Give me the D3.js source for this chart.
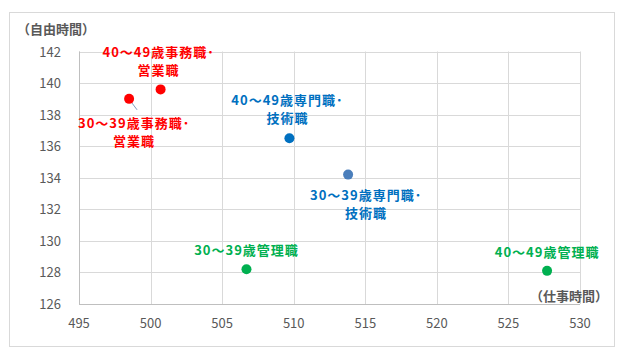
<!DOCTYPE html>
<html>
<head>
<meta charset="utf-8">
<script src="https://cdn.jsdelivr.net/npm/d3@7"></script>
<style>
  body { margin: 0; background: #fff; }
  text { font-family: "Noto Sans CJK JP", "Noto Sans", sans-serif; }
</style>
</head>
<body>
<div id="chart"></div>
<script>
// data
const ages = ['30～39歳', '40～49歳', '30～39歳', '40～49歳', '30～39歳', '40～49歳'];
const jobs = ['事務職･営業職', '事務職･営業職', '専門職･技術職', '専門職･技術職', '管理職', '管理職'];
const workHours = [498.5, 500.7, 513.8, 509.7, 506.7, 527.7];
const freeHours = [139.0, 139.6, 134.2, 136.5, 128.2, 128.1];
const xTicks = [495, 500, 505, 510, 515, 520, 525, 530];
const yTicks = [126, 128, 130, 132, 134, 136, 138, 140, 142];

function makeChart() {
    const width = 630,
        height = 364;
    const margin = { left: 79, right: 50, top: 51.5, bottom: 60 };

    const jobColor = d3.scaleOrdinal()
        .domain(['事務職･営業職', '専門職･技術職', '管理職'])
        .range(['#ff0000', '#0070c0', '#00b050']);
    const dotColor = ['#ff0000', '#ff0000', '#4a7ebb', '#0070c0', '#00b050', '#00b050'];

    // label offsets from dot: [dx, dy of first line baseline]
    const labelOffset = [[5, 29], [-2, -32], [18, 25], [-2, -33], [0, -14], [0, -14]];

    let svg = d3.select('#chart').append('svg')
        .attr('width', width)
        .attr('height', height);

    svg.append('rect')
        .attr('x', 9.5).attr('y', 12.5)
        .attr('width', 605).attr('height', 334)
        .attr('fill', '#fff')
        .attr('stroke', '#d9d9d9');

    let x = d3.scaleLinear()
        .domain([495, 530])
        .range([margin.left, width - margin.right]);
    let y = d3.scaleLinear()
        .domain([126, 142])
        .range([height - margin.bottom, margin.top]);

    // grid
    svg.append('g')
        .selectAll('line')
        .data(xTicks)
        .enter().append('line')
        .attr('x1', d => Math.round(x(d)) + 0.5).attr('x2', d => Math.round(x(d)) + 0.5)
        .attr('y1', y(142)).attr('y2', y(126))
        .attr('stroke', '#d9d9d9');
    svg.append('g')
        .selectAll('line')
        .data(yTicks)
        .enter().append('line')
        .attr('y1', d => Math.round(y(d)) + 0.5).attr('y2', d => Math.round(y(d)) + 0.5)
        .attr('x1', x(495)).attr('x2', x(530))
        .attr('stroke', '#d9d9d9');

    // axis lines
    svg.append('line')
        .attr('x1', Math.round(x(495)) + 0.5).attr('x2', Math.round(x(495)) + 0.5)
        .attr('y1', y(142)).attr('y2', y(126))
        .attr('stroke', '#bfbfbf');
    svg.append('line')
        .attr('y1', Math.round(y(126)) + 0.5).attr('y2', Math.round(y(126)) + 0.5)
        .attr('x1', x(495)).attr('x2', x(530))
        .attr('stroke', '#bfbfbf');

    // tick labels
    svg.append('g')
        .selectAll('text')
        .data(yTicks)
        .enter().append('text')
        .attr('x', 61)
        .attr('y', d => y(d) + 5)
        .attr('text-anchor', 'end')
        .attr('font-size', 13)
        .attr('fill', '#595959')
        .text(d => d);
    svg.append('g')
        .selectAll('text')
        .data(xTicks)
        .enter().append('text')
        .attr('x', d => x(d))
        .attr('y', 328)
        .attr('text-anchor', 'middle')
        .attr('font-size', 13)
        .attr('fill', '#595959')
        .text(d => d);

    // axis titles
    svg.append('text')
        .attr('x', 17).attr('y', 34)
        .attr('font-size', 13).attr('font-weight', 'bold')
        .attr('fill', '#595959')
        .text('（自由時間）');
    svg.append('text')
        .attr('x', 608).attr('y', 301)
        .attr('text-anchor', 'end')
        .attr('font-size', 13).attr('font-weight', 'bold')
        .attr('fill', '#595959')
        .text('（仕事時間）');

    const idx = d3.range(workHours.length);

    // leader line for 30-39 事務職
    svg.append('line')
        .attr('x1', x(workHours[0]) + 2).attr('y1', y(freeHours[0]) + 3)
        .attr('x2', x(workHours[0]) + 8).attr('y2', y(freeHours[0]) + 11)
        .attr('stroke', '#7f9cc0');

    // dots
    svg.append('g')
        .selectAll('circle')
        .data(idx)
        .enter().append('circle')
        .attr('cx', i => x(workHours[i]))
        .attr('cy', i => y(freeHours[i]))
        .attr('r', 5)
        .attr('fill', i => dotColor[i]);

    // labels
    let labels = svg.append('g')
        .selectAll('text')
        .data(idx)
        .enter().append('text')
        .attr('text-anchor', 'middle')
        .attr('font-size', 13)
        .attr('font-weight', 'bold')
        .attr('letter-spacing', 1)
        .attr('fill', i => jobColor(jobs[i]))
        .attr('transform', i => 'translate(' + (x(workHours[i]) + labelOffset[i][0]) + ',' + (y(freeHours[i]) + labelOffset[i][1]) + ')');

    labels.each(function(i) {
        let parts = jobs[i].split('･');
        let t = d3.select(this);
        if (parts.length > 1) {
            t.append('tspan').attr('x', 0).attr('y', 0).text(ages[i] + parts[0] + '･');
            t.append('tspan').attr('x', 0).attr('y', 18).text(parts[1]);
        } else {
            t.append('tspan').attr('x', 0).attr('y', 0).text(ages[i] + parts[0]);
        }
    });
}

makeChart();
</script>
</body>
</html>
